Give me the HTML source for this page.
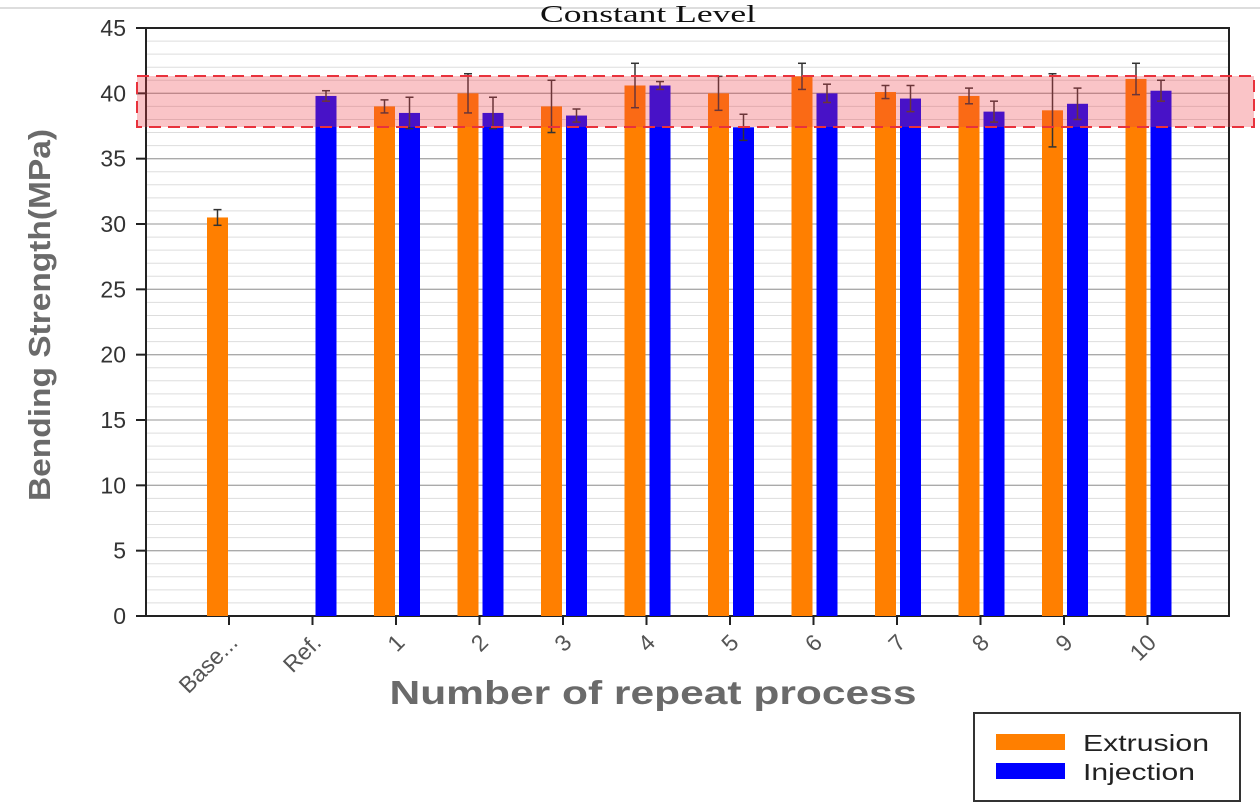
<!DOCTYPE html>
<html><head><meta charset="utf-8"><style>
html,body{margin:0;padding:0;background:#fff;width:1260px;height:812px;overflow:hidden}
</style></head><body>
<svg id="s" width="1260" height="812" xmlns="http://www.w3.org/2000/svg" font-family="Liberation Sans, sans-serif"></svg>
<script>
const s=document.getElementById('s');let h='';
const L=146,R=1229,B=616,T=28,k=(B-T)/45;
const y=v=>B-v*k;
h+=`<line x1="0" y1="8" x2="1260" y2="8" stroke="#ddd" stroke-width="2"/>`;
h+=`<text x="648" y="22" font-family="Liberation Serif, serif" font-size="24" text-anchor="middle" fill="#111" textLength="216" lengthAdjust="spacingAndGlyphs">Constant Level</text>`;
for(let v=1;v<45;v++){const Y=y(v);h+=`<line x1="${L}" y1="${Y}" x2="${R}" y2="${Y}" stroke="${v%5==0?'#aaa':'#ddd'}" stroke-width="${v%5==0?1.3:1}"/>`;}
h+=`<rect x="${L}" y="${T}" width="${R-L}" height="${B-T}" fill="none" stroke="#222" stroke-width="2"/>`;
for(let v=0;v<=45;v+=5){const Y=y(v);h+=`<line x1="${L-10}" y1="${Y}" x2="${L}" y2="${Y}" stroke="#222" stroke-width="2"/><text x="${L-20}" y="${Y+8}" font-size="23" text-anchor="end" fill="#333">${v}</text>`;}
const labels=['Base...','Ref.','1','2','3','4','5','6','7','8','9','10'];
const ex=[[30.5,0.6],null,[39,0.5],[40,1.5],[39,2],[40.6,1.7],[40,1.3],[41.3,1],[40.1,0.5],[39.8,0.6],[38.7,2.8],[41.1,1.2]];
const inj=[null,[39.8,0.4],[38.5,1.2],[38.5,1.2],[38.3,0.5],[40.6,0.3],[37.4,1],[40,0.7],[39.6,1],[38.6,0.8],[39.2,1.2],[40.2,0.8]];
const bw=21;
labels.forEach((l,i)=>{const c=229+i*83.5;
 h+=`<line x1="${c}" y1="${B}" x2="${c}" y2="${B+9}" stroke="#222" stroke-width="2"/>`;
 h+=`<text transform="translate(${c+10},${B+28}) rotate(-45)" font-size="23" text-anchor="end" fill="#555">${l}</text>`;
 const eb=(x,d)=>{const [v,e]=d;h+=`<line x1="${x}" y1="${y(v+e)}" x2="${x}" y2="${y(v-e)}" stroke="#333" stroke-width="1.5"/><line x1="${x-4}" y1="${y(v+e)}" x2="${x+4}" y2="${y(v+e)}" stroke="#333" stroke-width="1.5"/><line x1="${x-4}" y1="${y(v-e)}" x2="${x+4}" y2="${y(v-e)}" stroke="#333" stroke-width="1.5"/>`;};
 if(ex[i]){const x=c-1-bw;h+=`<rect x="${x}" y="${y(ex[i][0])}" width="${bw}" height="${B-y(ex[i][0])}" fill="#ff7f00"/>`;eb(x+bw/2,ex[i]);}
 if(inj[i]){const x=c+3;h+=`<rect x="${x}" y="${y(inj[i][0])}" width="${bw}" height="${B-y(inj[i][0])}" fill="#0000ff"/>`;eb(x+bw/2,inj[i]);}
});
h+=`<rect x="137" y="76" width="1117" height="51" fill="rgba(240,60,70,0.3)" stroke="#e8323c" stroke-width="2" stroke-dasharray="12,7"/>`;
h+=`<text transform="translate(50,315) rotate(-90)" font-size="31" font-weight="bold" text-anchor="middle" fill="#6a6a6a" textLength="372" lengthAdjust="spacingAndGlyphs">Bending Strength(MPa)</text>`;
h+=`<text x="653" y="704" font-size="33" font-weight="bold" text-anchor="middle" fill="#6a6a6a" textLength="527" lengthAdjust="spacingAndGlyphs">Number of repeat process</text>`;
h+=`<rect x="974" y="713" width="266" height="88" fill="#fff" stroke="#333" stroke-width="2"/>`;
h+=`<rect x="996" y="734" width="69" height="16" fill="#ff7f00"/><rect x="996" y="763" width="69" height="16" fill="#0000ff"/>`;
h+=`<text x="1083" y="751" font-size="23" fill="#222" textLength="126" lengthAdjust="spacingAndGlyphs">Extrusion</text><text x="1083" y="780" font-size="23" fill="#222" textLength="112" lengthAdjust="spacingAndGlyphs">Injection</text>`;
s.innerHTML=h;
</script>
</body></html>
